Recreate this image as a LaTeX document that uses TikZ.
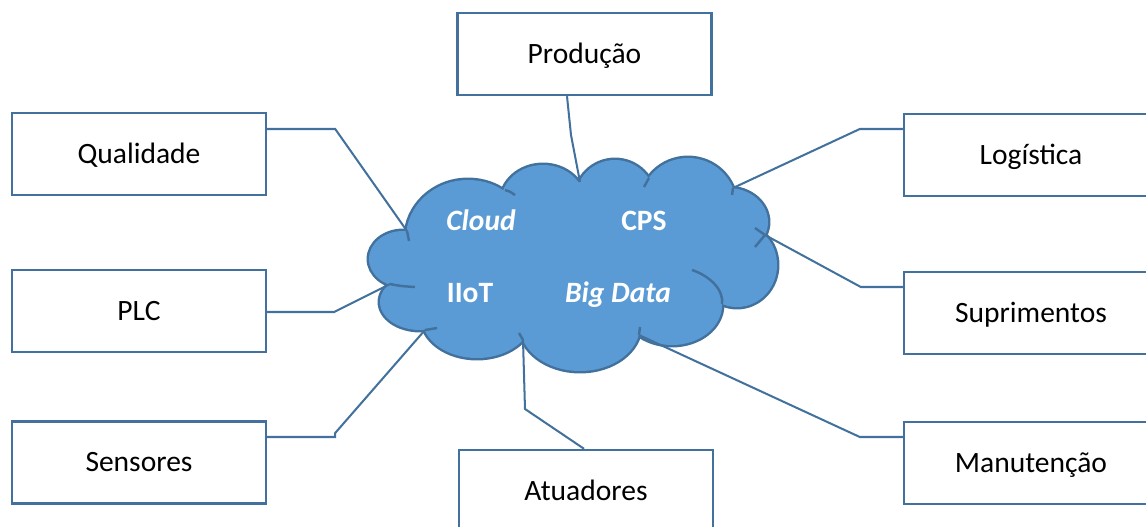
\documentclass[tikz,border=0pt]{standalone}
\usepackage{fontspec}
\setmainfont{Carlito}
\definecolor{boxline}{HTML}{41719C}
\definecolor{cloudblue}{HTML}{5B9BD5}

\begin{document}
\begin{tikzpicture}[x=0.02cm,y=-0.02cm,
		box/.style={draw=boxline,line width=1.4pt,fill=white,minimum width=5.08cm,minimum height=1.64cm,
			inner sep=0pt,font=\fontsize{16.8}{20}\selectfont,text height=10.8pt,text depth=0pt},
		link/.style={draw=boxline,line width=1.15pt},
		crease/.style={draw=boxline,line width=1.4pt},
		word/.style={anchor=base,text=white,font=\fontsize{16.8}{20}\selectfont\bfseries},
		iword/.style={word,font=\fontsize{16.8}{20}\selectfont\bfseries\itshape}]
	\useasboundingbox (0,0) rectangle (1146,527);
	% boxes round the cloud
	\node[box] (prod) at (584.5,54) {Produção};
	\node[box] (qual) at (139,154) {Qualidade};
	\node[box] (plc) at (139,311) {PLC};
	\node[box] (sens) at (139,462.5) {Sensores};
	\node[box] (atua) at (586,491) {Atuadores};
	\node[box] (logi) at (1031,155) {Logística};
	\node[box] (supr) at (1031,313) {Suprimentos};
	\node[box] (manu) at (1031,463) {Manutenção};
	% cloud: puffs x/y/rx/ry
	\def\puffs{403/259/34/28, 468/238/62/58, 543/202/42/37, 615/200/40/40, 688/205/48/47, 728/222/40/34,
		737/265/40/42, 672/305/50/40, 580/326/60/45, 477/318/55/40, 420/302/40/28}
	\coordinate (v1) at (407,231);
	\coordinate (v2) at (505,190);
	\coordinate (v3) at (580,182);
	\coordinate (v4) at (649,178);
	\coordinate (v5) at (733,188);
	\coordinate (v6) at (765,235);
	\coordinate (v7) at (722,304);
	\coordinate (v8) at (639,335);
	\coordinate (v9) at (523,340);
	\coordinate (v10) at (425,330);
	\coordinate (v11) at (390,284);
	\foreach \cx/\cy/\rx/\ry in \puffs
		\draw[boxline,line width=2.8pt] (\cx,\cy) ellipse [x radius=\rx, y radius=\ry];
	\foreach \cx/\cy/\rx/\ry in \puffs
		\fill[cloudblue] (\cx,\cy) ellipse [x radius=\rx, y radius=\ry];
	\fill[cloudblue] (v1) -- (v2) -- (v3) -- (v4) -- (v5) -- (v6) -- (v7) -- (v8) -- (v9) -- (v10) -- (v11) -- cycle;
	\draw[crease] (v1) -- (409,241);
	\draw[crease] (v2) .. controls (509,191) .. (515,195);
	\draw[crease] (v4) -- (644,187);
	\draw[crease] (v5) -- (732,195);
	\draw[crease] (v6) -- (755,247);
	\draw[crease] (v6) -- (755,228);
	\draw[crease] (v7) .. controls (724,290) and (710,276) .. (692,270);
	\draw[crease] (v8) -- (640,327);
	\draw[crease] (v9) -- (519,333);
	\draw[crease] (v10) -- (437,328);
	\draw[crease] (v11) .. controls (400,286) .. (415,287);
	% words in the cloud
	\node[iword] (w1) at (481,230) {Cloud};
	\node[word] (w2) at (644,230) {CPS};
	\node[word] (w3) at (470,302) {IIoT};
	\node[iword] (w4) at (618,302) {Big Data};
	% connectors
	\draw[link] (qual.east |- 0,129) -- ++(68,0) -- (v1);
	\draw[link] (plc.east |- 0,312) -- ++(67,0) -- (v11);
	\draw[link] (sens.east |- 0,437) -- ++(68,0) -- ++(0,-4) -- (v10);
	\draw[link] (atua.north -| 584,0) -- (525,409) -- (v9);
	\draw[link] (prod.south -| 567,0) -- (571,135) -- (v3);
	\draw[link] (logi.west |- 0,129) -- ++(-43,0) -- (v5);
	\draw[link] (supr.west |- 0,287) -- ++(-42,0) -- (v6);
	\draw[link] (manu.west |- 0,437) -- ++(-43,0) -- (v8);
\end{tikzpicture}
\end{document}
